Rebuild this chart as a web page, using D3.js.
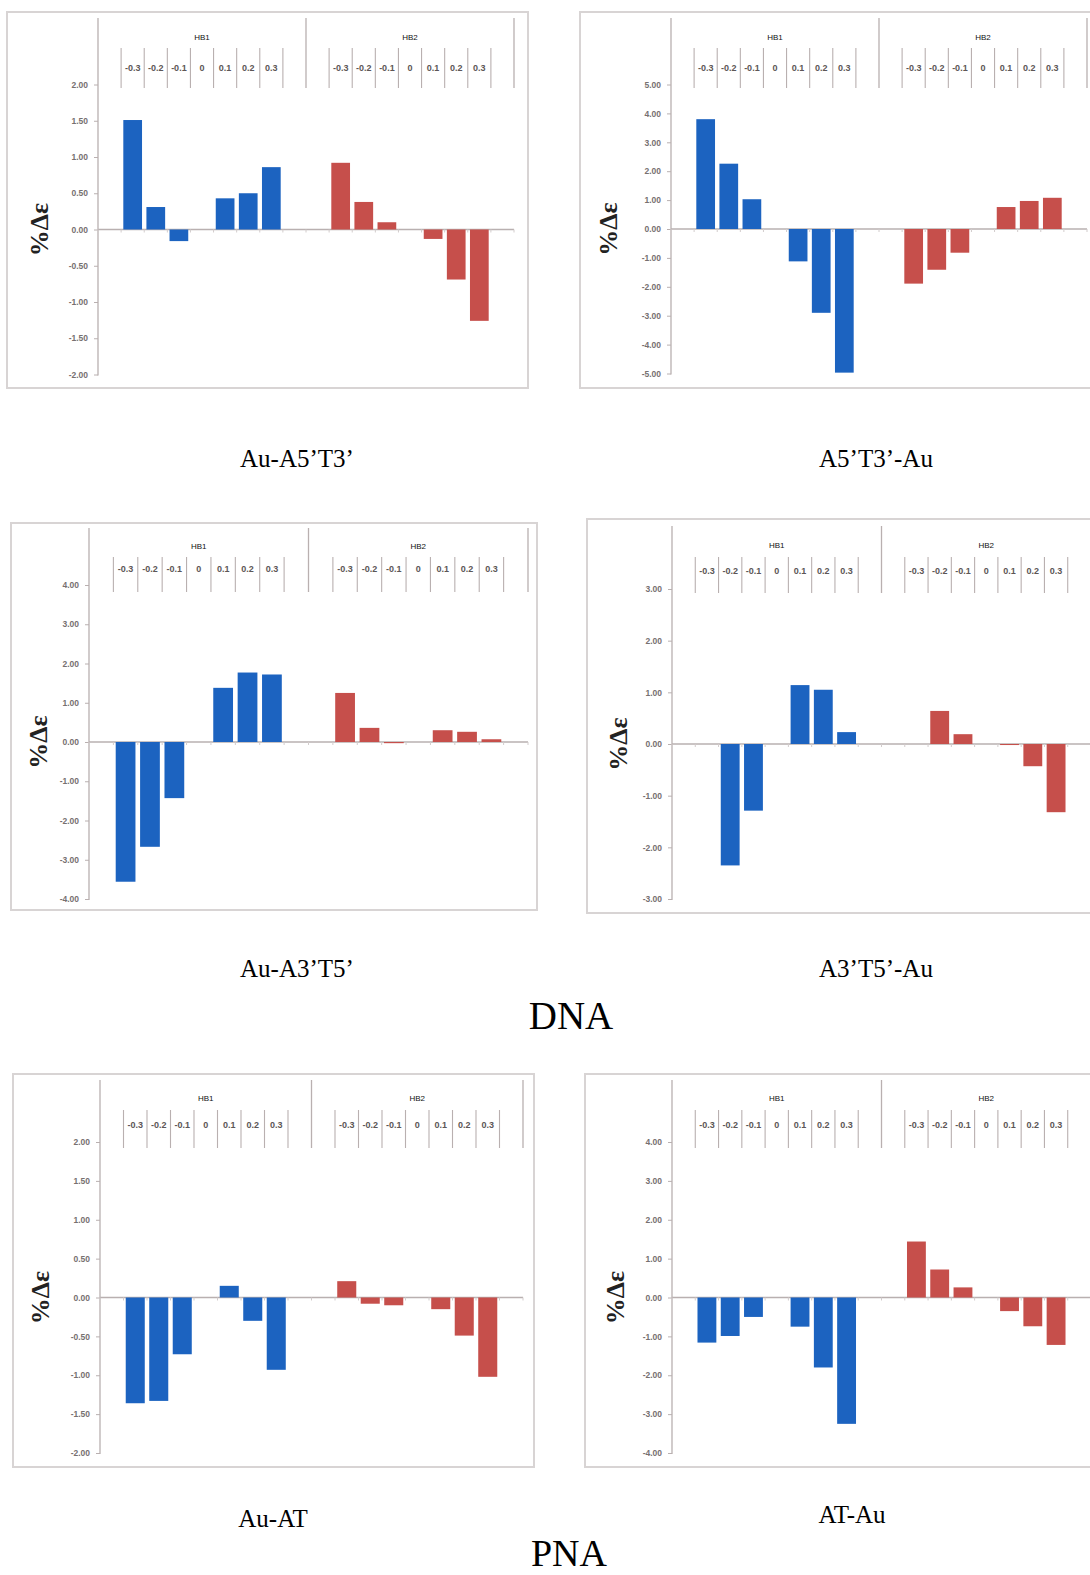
<!DOCTYPE html>
<html>
<head>
<meta charset="utf-8">
<script src="https://cdn.jsdelivr.net/npm/d3@7"></script>
<style>
  body { margin: 0; background: #fff; }
  svg { display: block; }
</style>
</head>
<body>
<svg id="fig"></svg>
<script>

// categories (offset of the H-bond length) and the two H-bond groups
var cats = ["-0.3", "-0.2", "-0.1", "0", "0.1", "0.2", "0.3"];
var groups = ["HB1", "HB2"];

// %Δε, null = no bar
var auA5T3_HB1 = [1.51, 0.31, -0.16, null, 0.43, 0.50, 0.86];
var auA5T3_HB2 = [0.92, 0.38, 0.10, null, -0.13, -0.69, -1.26];
var a5T3Au_HB1 = [3.80, 2.26, 1.03, null, -1.12, -2.90, -4.97];
var a5T3Au_HB2 = [-1.89, -1.41, -0.82, null, 0.76, 0.97, 1.08];
var auA3T5_HB1 = [-3.56, -2.67, -1.43, null, 1.38, 1.77, 1.72];
var auA3T5_HB2 = [1.25, 0.36, -0.03, null, 0.30, 0.26, 0.07];
var a3T5Au_HB1 = [null, -2.35, -1.29, null, 1.14, 1.05, 0.23];
var a3T5Au_HB2 = [null, 0.64, 0.19, null, -0.02, -0.43, -1.32];
var auAT_HB1 = [-1.36, -1.33, -0.73, null, 0.15, -0.30, -0.93];
var auAT_HB2 = [0.21, -0.08, -0.10, null, -0.15, -0.49, -1.02];
var atAu_HB1 = [-1.16, -0.99, -0.50, null, -0.75, -1.80, -3.25];
var atAu_HB2 = [1.44, 0.72, 0.26, null, -0.35, -0.74, -1.22];

// y tick labels
var ticks2 = [2, 1.5, 1, 0.5, 0, -0.5, -1, -1.5, -2];
var ticks3 = [3, 2, 1, 0, -1, -2, -3];
var ticks4 = [4, 3, 2, 1, 0, -1, -2, -3, -4];
var ticks5 = [5, 4, 3, 2, 1, 0, -1, -2, -3, -4, -5];

var colors = { HB1: "#1c63c0", HB2: "#c64f4b" };

// where each excel chart sits on the page
var panels = [
  { caption: "Au-A5’T3’", hb1: auA5T3_HB1, hb2: auA5T3_HB2, ticks: ticks2,
    box: [7, 12, 528, 388], axisX: 98, groupEnd: 514, yTop: 84.5, yBot: 374.5,
    hdrTop: 18, innerTop: 48, hdrBot: 88, hbY: 40, catY: 71, labelX: 39, capX: 297, capY: 467 },
  { caption: "A5’T3’-Au", hb1: a5T3Au_HB1, hb2: a5T3Au_HB2, ticks: ticks5,
    box: [580, 12, 1100, 388], axisX: 671, groupEnd: 1087, yTop: 84.5, yBot: 373.5,
    hdrTop: 18, innerTop: 48, hdrBot: 88, hbY: 40, catY: 71, labelX: 608, capX: 876, capY: 467 },
  { caption: "Au-A3’T5’", hb1: auA3T5_HB1, hb2: auA3T5_HB2, ticks: ticks4,
    box: [11, 523, 537, 910], axisX: 89, groupEnd: 528, yTop: 585, yBot: 899,
    hdrTop: 528, innerTop: 557, hdrBot: 592, hbY: 549, catY: 572, labelX: 38, capX: 297, capY: 977 },
  { caption: "A3’T5’-Au", hb1: a3T5Au_HB1, hb2: a3T5Au_HB2, ticks: ticks3,
    box: [587, 519, 1100, 913], axisX: 672, groupEnd: 1091, yTop: 589, yBot: 899,
    hdrTop: 526, innerTop: 557, hdrBot: 593, hbY: 548, catY: 574, labelX: 618, capX: 876, capY: 977 },
  { caption: "Au-AT", hb1: auAT_HB1, hb2: auAT_HB2, ticks: ticks2,
    box: [13, 1074, 534, 1467], axisX: 100, groupEnd: 523, yTop: 1142, yBot: 1453,
    hdrTop: 1080, innerTop: 1110, hdrBot: 1148, hbY: 1101, catY: 1128, labelX: 40, capX: 273, capY: 1527 },
  { caption: "AT-Au", hb1: atAu_HB1, hb2: atAu_HB2, ticks: ticks4,
    box: [585, 1074, 1100, 1467], axisX: 672, groupEnd: 1091, yTop: 1142, yBot: 1453,
    hdrTop: 1080, innerTop: 1110, hdrBot: 1148, hbY: 1101, catY: 1128, labelX: 615, capX: 852, capY: 1523 }
];

var W = 1090, H = 1575;
var svg = d3.select("#fig").attr("width", W).attr("height", H);

var fmt = d3.formatLocale({ decimal: ".", thousands: ",", grouping: [3], currency: ["", ""], minus: "-" }).format(".2f");
var lineCol = "#b9b0b0";
var slots = ["<"].concat(cats, [">"]);   // one blank slot each side of a group

var drawPanel = function(p) {
  var g = svg.append("g");

  g.append("rect")
    .attr("x", p.box[0]).attr("y", p.box[1])
    .attr("width", p.box[2] - p.box[0]).attr("height", p.box[3] - p.box[1])
    .attr("fill", "#fff").attr("stroke", "#d8d4d4").attr("stroke-width", 2);

  var x0 = d3.scaleBand().domain(groups).range([p.axisX, p.groupEnd]);
  var x1 = d3.scaleBand().domain(slots).range([0, x0.bandwidth()]);
  var y = d3.scaleLinear()
    .domain([p.ticks[p.ticks.length - 1], p.ticks[0]])
    .range([p.yBot, p.yTop]);

  // y axis
  var yAxis = g.append("g")
    .attr("transform", "translate(" + p.axisX + ",0)")
    .call(d3.axisLeft(y).tickValues(p.ticks).tickFormat(fmt).tickSize(4).tickPadding(6));
  yAxis.select(".domain").remove();
  yAxis.selectAll(".tick line").attr("stroke", lineCol);
  yAxis.selectAll(".tick text")
    .attr("fill", "#767070").attr("font-family", "Liberation Sans, Arial, sans-serif")
    .attr("font-size", 8.5).attr("font-weight", "bold");

  g.append("line")
    .attr("x1", p.axisX).attr("x2", p.axisX)
    .attr("y1", p.hdrTop).attr("y2", p.yBot + 1)
    .attr("stroke", lineCol).attr("stroke-width", 1.3);

  // category header on top (two levels)
  groups.forEach(function(grp) {
    var gx = x0(grp);
    g.append("line")
      .attr("x1", gx + x0.bandwidth()).attr("x2", gx + x0.bandwidth())
      .attr("y1", p.hdrTop).attr("y2", p.hdrBot)
      .attr("stroke", lineCol).attr("stroke-width", 1.3);

    g.append("text")
      .attr("x", gx + x0.bandwidth() / 2).attr("y", p.hbY)
      .attr("text-anchor", "middle")
      .attr("font-family", "Liberation Sans, Arial, sans-serif").attr("font-size", 8)
      .attr("fill", "#111")
      .text(grp);

    var edges = cats.map(function(c) { return gx + x1(c); }).concat([gx + x1(">")]);
    g.selectAll(null).data(edges).enter().append("line")
      .attr("x1", function(d) { return d; }).attr("x2", function(d) { return d; })
      .attr("y1", p.innerTop).attr("y2", p.hdrBot)
      .attr("stroke", lineCol).attr("stroke-width", 1.1);

    g.selectAll(null).data(cats).enter().append("text")
      .attr("x", function(c) { return gx + x1(c) + x1.bandwidth() / 2; })
      .attr("y", p.catY)
      .attr("text-anchor", "middle")
      .attr("font-family", "Liberation Sans, Arial, sans-serif").attr("font-size", 9)
      .attr("font-weight", "bold").attr("fill", "#5c5656")
      .text(function(c) { return c; });
  });

  // zero line with little ticks at every slot edge
  var y0 = y(0);
  g.append("line")
    .attr("x1", p.axisX).attr("x2", p.groupEnd)
    .attr("y1", y0).attr("y2", y0)
    .attr("stroke", lineCol).attr("stroke-width", 1.3);
  var zticks = [];
  groups.forEach(function(grp) {
    slots.forEach(function(s) { zticks.push(x0(grp) + x1(s)); });
  });
  zticks.push(p.groupEnd);
  g.selectAll(null).data(zticks).enter().append("line")
    .attr("x1", function(d) { return d; }).attr("x2", function(d) { return d; })
    .attr("y1", y0).attr("y2", y0 + 3)
    .attr("stroke", "#d2cccc");

  // bars
  var rows = [];
  cats.forEach(function(c, i) {
    if (p.hb1[i] !== null) rows.push({ grp: "HB1", cat: c, v: p.hb1[i] });
    if (p.hb2[i] !== null) rows.push({ grp: "HB2", cat: c, v: p.hb2[i] });
  });
  var bw = x1.bandwidth();
  g.selectAll(null).data(rows).enter().append("rect")
    .attr("x", function(d) { return x0(d.grp) + x1(d.cat) + bw * 0.095; })
    .attr("width", bw * 0.81)
    .attr("y", function(d) { return Math.min(y(d.v), y0); })
    .attr("height", function(d) { return Math.max(Math.abs(y(d.v) - y0), 1); })
    .attr("fill", function(d) { return colors[d.grp]; });

  // y title
  g.append("text")
    .attr("transform", "translate(" + p.labelX + "," + y0 + ") rotate(-90)")
    .attr("text-anchor", "middle").attr("dominant-baseline", "central")
    .attr("font-family", "Liberation Serif, Times New Roman, serif")
    .attr("font-size", 26).attr("font-weight", "bold").attr("fill", "#222")
    .text("%Δε");

  // caption under the chart
  svg.append("text")
    .attr("x", p.capX).attr("y", p.capY)
    .attr("text-anchor", "middle")
    .attr("font-family", "Liberation Serif, Times New Roman, serif")
    .attr("font-size", 25).attr("fill", "#000")
    .text(p.caption);
};

panels.forEach(drawPanel);

// section titles
svg.append("text")
  .attr("x", 571).attr("y", 1029).attr("text-anchor", "middle")
  .attr("font-family", "Liberation Serif, Times New Roman, serif").attr("font-size", 39)
  .text("DNA");
svg.append("text")
  .attr("x", 569).attr("y", 1566).attr("text-anchor", "middle")
  .attr("font-family", "Liberation Serif, Times New Roman, serif").attr("font-size", 38)
  .text("PNA");

</script>
</body>
</html>
